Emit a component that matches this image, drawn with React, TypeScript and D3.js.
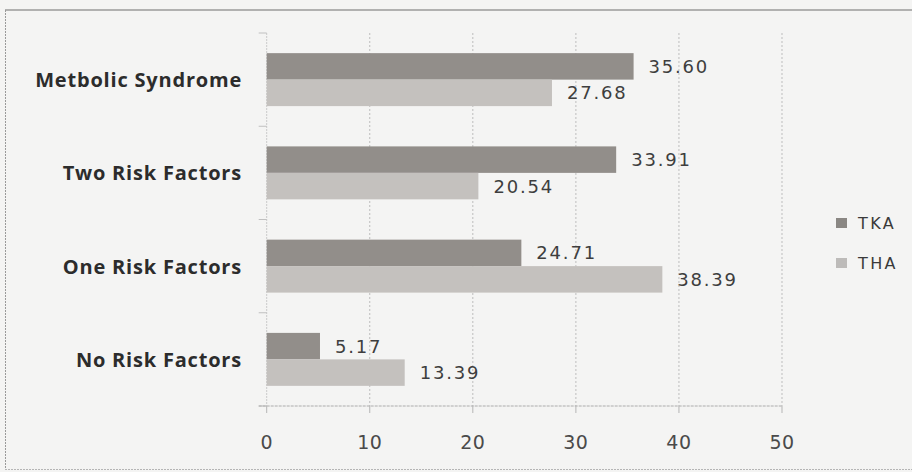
import React from "react";
import * as d3 from "d3";

const categories = ["Metbolic Syndrome", "Two Risk Factors", "One Risk Factors", "No Risk Factors"];
const seriesNames = ["TKA", "THA"];
const tkaValues = [35.6, 33.91, 24.71, 5.17];
const thaValues = [27.68, 20.54, 38.39, 13.39];
const xTicks = [0, 10, 20, 30, 40, 50];

const W = 912;
const H = 472;
const colors = ["#928e8a", "#c4c1be"];
const legendColors = ["#8a8783", "#bdbbb9"];

export default function App() {
  const x = d3.scaleLinear().domain([0, 50]).range([266.7, 782]);
  const y = d3.scaleBand<string>().domain(categories).range([33, 406]).paddingInner(0.432).paddingOuter(0.216);
  const sub = d3.scaleBand<string>().domain(seriesNames).range([0, y.bandwidth()]);
  const values = [tkaValues, thaValues];
  const step = y.step();
  const boundaries = d3.range(categories.length + 1).map((i) => 33 + i * step);
  const font = "'DejaVu Sans', sans-serif";

  return (
    <svg width={W} height={H} style={{ position: "absolute", left: 0, top: 0, background: "#f4f4f3" }}>
      <rect x={0} y={0} width={W} height={H} fill="#f4f4f3" />
      {/* border */}
      <line x1={5} x2={W} y1={10} y2={10} stroke="#6f6f6f" strokeWidth={1.2} />
      <line x1={5.5} x2={5.5} y1={10} y2={469} stroke="#9a9a9a" strokeWidth={1} strokeDasharray="2 1" />
      <line x1={5} x2={W} y1={469.5} y2={469.5} stroke="#b5b5b5" strokeWidth={1} strokeDasharray="2 1" />

      {/* gridlines */}
      {xTicks.slice(1).map((t) => (
        <line key={"g" + t} x1={x(t)} x2={x(t)} y1={33} y2={406} stroke="#bdbdbd" strokeWidth={1} strokeDasharray="2 2" />
      ))}
      {/* y axis */}
      <line x1={x(0)} x2={x(0)} y1={33} y2={406} stroke="#cacaca" strokeWidth={1} strokeDasharray="2 1" />
      {boundaries.map((b, i) => (
        <line key={"yt" + i} x1={x(0) - 8} x2={x(0)} y1={b} y2={b} stroke="#c0c0c0" strokeWidth={1} />
      ))}
      {/* x axis */}
      <line x1={x(0) - 8} x2={x(50)} y1={406} y2={406} stroke="#acacac" strokeWidth={1} strokeDasharray="3 1" />
      {xTicks.map((t) => (
        <line key={"xt" + t} x1={x(t)} x2={x(t)} y1={406} y2={413} stroke="#b5b5b5" strokeWidth={1} />
      ))}
      {xTicks.map((t) => (
        <text key={"xl" + t} x={x(t)} y={442} textAnchor="middle" dominantBaseline="central" fontFamily={font} fontSize={19} letterSpacing={0.5} fill="#4a4a4a">
          {t}
        </text>
      ))}

      {/* bars */}
      {categories.map((c, ci) =>
        seriesNames.map((s, si) => {
          const v = values[si][ci];
          const by = (y(c) as number) + (sub(s) as number);
          const bh = sub.bandwidth();
          return (
            <g key={c + s}>
              <rect x={x(0)} y={by} width={x(v) - x(0)} height={bh} fill={colors[si]} />
              <text x={x(v) + 15} y={by + bh / 2} dominantBaseline="central" fontFamily={font} fontSize={18} letterSpacing={1.8} fill="#3e3e3e">
                {v.toFixed(2)}
              </text>
            </g>
          );
        })
      )}

      {/* category labels */}
      {categories.map((c) => (
        <text key={"cl" + c} x={242} y={(y(c) as number) + y.bandwidth() / 2} textAnchor="end" dominantBaseline="central" fontFamily="'Open Sans', sans-serif" fontWeight={700} fontSize={20} letterSpacing={0.8} fill="#2c2c2c">
          {c}
        </text>
      ))}

      {/* legend */}
      {seriesNames.map((s, i) => (
        <g key={"lg" + s} transform={`translate(836, ${223 + i * 40})`}>
          <rect x={0} y={-5} width={11} height={10} fill={legendColors[i]} />
          <text x={22} y={0} dominantBaseline="central" fontFamily={font} fontSize={16} letterSpacing={2.4} fill="#3a3a3a">
            {s}
          </text>
        </g>
      ))}
    </svg>
  );
}
